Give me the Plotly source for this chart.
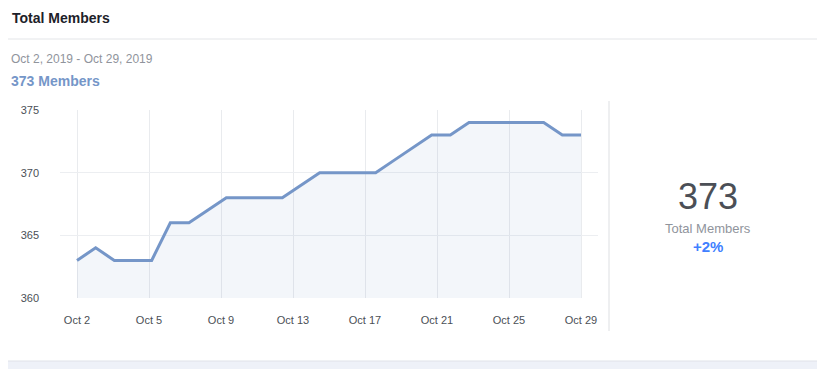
import plotly.graph_objects as go
import pandas as pd

# ---- data ----
dates = pd.date_range("2019-10-02", "2019-10-29", freq="D")
members = [363, 364, 363, 363, 363, 366, 366, 367, 368, 368, 368, 368, 369, 370,
           370, 370, 370, 371, 372, 373, 373, 374, 374, 374, 374, 374, 373, 373]
tick_labels = ["Oct 2", "Oct 5", "Oct 9", "Oct 13", "Oct 17", "Oct 21", "Oct 25", "Oct 29"]
y_ticks = [360, 365, 370, 375]
title_text = "Total Members"
date_range_text = "Oct 2, 2019 - Oct 29, 2019"
summary_text = "373 Members"
big_value = "373"
big_label = "Total Members"
change_text = "+2%"

# ---- layout geometry (window pixels; page body has an 8px margin) ----
OFF = 8
WIN_W, WIN_H = 825, 369
W, H = WIN_W - OFF, WIN_H - OFF
PL, PR, PT, PB = 60, 598, 110, 298  # plot area edges in window pixels

start = dates[0]
span_days = (dates[-1] - dates[0]).days
n_ticks = len(tick_labels) - 1
tickvals = [start + pd.Timedelta(days=span_days * k / n_ticks) for k in range(len(tick_labels))]
pad = pd.Timedelta(days=(77 - PL) / ((581 - 77) / span_days))
xrange = [dates[0] - pad, dates[-1] + pad]

LINE = "#7596c8"
FONT = "Liberation Sans, Arial, sans-serif"


def px(x):
    return (x - PL) / (PR - PL)


def py(y):
    return (PB - y) / (PB - PT)


fig = go.Figure()
fig.add_trace(go.Scatter(
    x=dates, y=members, mode="lines",
    line=dict(color=LINE, width=3),
    fill="tozeroy", fillcolor="rgba(117,150,200,0.09)",
    hoverinfo="skip",
))

shapes = [
    # header divider
    dict(type="line", xref="paper", yref="paper", x0=px(0), x1=px(817), y0=py(39), y1=py(39),
         line=dict(color="#e3e5e8", width=1)),
    # right background strip
    dict(type="rect", xref="paper", yref="paper", x0=px(818), x1=px(830), y0=py(-5), y1=py(375),
         line=dict(width=0), fillcolor="#e9ebee", layer="below"),
    # bottom background strip
    dict(type="rect", xref="paper", yref="paper", x0=px(-5), x1=px(818), y0=py(361), y1=py(375),
         line=dict(width=0), fillcolor="#eef1f8", layer="below"),
    dict(type="line", xref="paper", yref="paper", x0=px(-5), x1=px(818), y0=py(361), y1=py(361),
         line=dict(color="#dfe2e8", width=1)),
    dict(type="line", xref="paper", yref="paper", x0=px(817.5), x1=px(817.5), y0=py(-5), y1=py(361),
         line=dict(color="#dddfe2", width=1)),
    # separator between chart and summary
    dict(type="line", xref="paper", yref="paper", x0=px(609), x1=px(609), y0=py(101), y1=py(331),
         line=dict(color="#dddfe2", width=1)),
]

annotations = [
    dict(text=f"<b>{title_text}</b>", x=px(10), y=py(18), xanchor="left", yanchor="middle",
         font=dict(size=14, color="#1d2129", family=FONT)),
    dict(text=date_range_text, x=px(9), y=py(59), xanchor="left", yanchor="middle",
         font=dict(size=12, color="#90949c", family=FONT)),
    dict(text=f"<b>{summary_text}</b>", x=px(9), y=py(81), xanchor="left", yanchor="middle",
         font=dict(size=14, color=LINE, family=FONT)),
    dict(text=big_value, x=px(707.5), y=py(196), xanchor="center", yanchor="middle",
         font=dict(size=36, color="#4b4f56", family=FONT)),
    dict(text=big_label, x=px(707.5), y=py(228), xanchor="center", yanchor="middle",
         font=dict(size=13, color="#90949c", family=FONT)),
    dict(text=f"<b>{change_text}</b>", x=px(707.5), y=py(246), xanchor="center", yanchor="middle",
         font=dict(size=15, color="#4080ff", family=FONT)),
]
for a in annotations:
    a.update(xref="paper", yref="paper", showarrow=False)

fig.update_layout(
    width=W, height=H,
    margin=dict(l=PL - OFF, r=WIN_W - PR, t=PT - OFF, b=WIN_H - PB),
    paper_bgcolor="white", plot_bgcolor="white",
    showlegend=False,
    shapes=shapes, annotations=annotations,
    font=dict(family=FONT),
    xaxis=dict(
        type="date", range=xrange, tickmode="array", tickvals=tickvals, ticktext=tick_labels,
        showgrid=True, gridcolor="#e9ebee", gridwidth=1, zeroline=False, showline=False,
        ticks="", ticklabelstandoff=14,
        tickfont=dict(size=11, color="#4b4f56", family=FONT),
    ),
    yaxis=dict(
        range=[360, 375], tickmode="array", tickvals=y_ticks,
        showgrid=True, gridcolor="#eceef1", gridwidth=1, zeroline=False, showline=False,
        ticks="", ticklabelstandoff=20,
        tickfont=dict(size=11, color="#4b4f56", family=FONT),
    ),
)

fig.write_html("out.html")
